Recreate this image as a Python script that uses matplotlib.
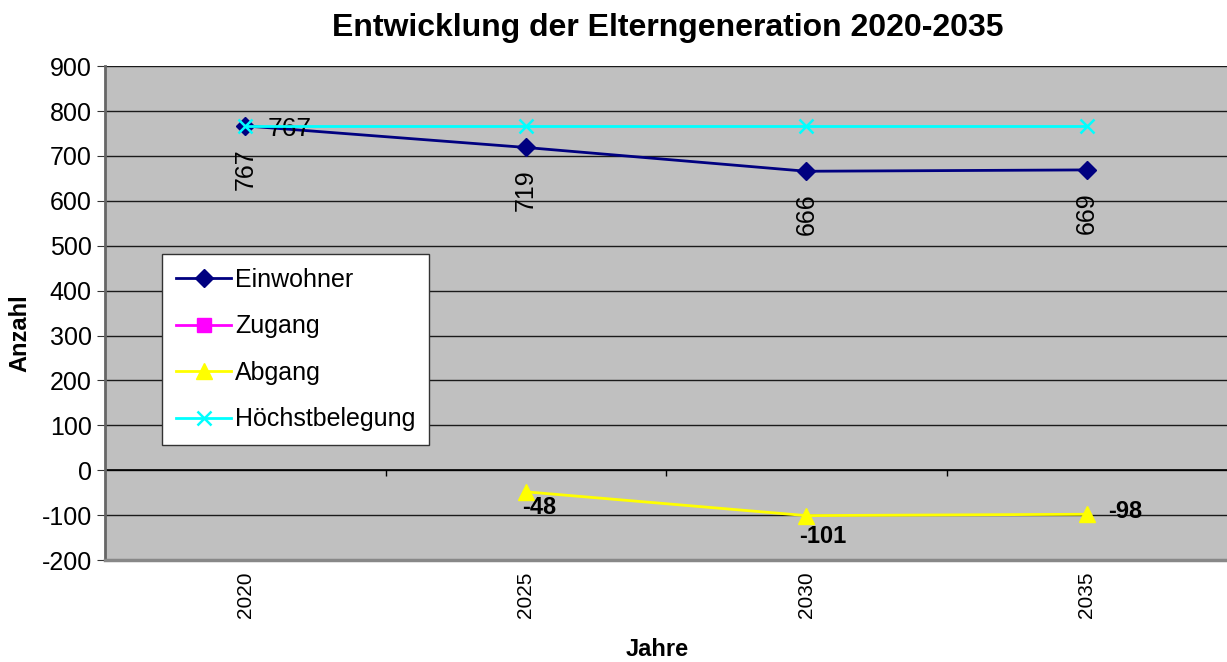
import numpy as np
import matplotlib
matplotlib.use('Agg')
import matplotlib.pyplot as plt

plt.rcParams['font.family'] = ['Liberation Sans', 'DejaVu Sans']
plt.rcParams['axes.unicode_minus'] = False

# Data
jahre = ['2020', '2025', '2030', '2035']
einwohner = [767, 719, 666, 669]
zugang = [np.nan, np.nan, np.nan, np.nan]
abgang = [np.nan, -48, -101, -98]
hoechstbelegung = [767, 767, 767, 767]

# Label offsets (points) for the Abgang values
abgang_offsets = [(0, 0), (10, -11), (12, -15), (28, 2)]

x = np.arange(len(jahre))

fig = plt.figure(figsize=(12.27, 6.62), dpi=100)
ax = fig.add_axes([0.0856, 0.154, 0.9144, 0.746])
ax.set_facecolor('#C0C0C0')

# grid
ax.set_ylim(-200, 900)
ax.set_xlim(-0.5, 3.5)
ax.set_yticks(np.arange(-200, 901, 100))
ax.yaxis.grid(True, color='#1a1a1a', linewidth=1.0)
ax.set_axisbelow(True)

# zero axis line with category boundary ticks
ax.axhline(0, color='black', linewidth=1.2, zorder=1)
ax.vlines(x[:-1] + 0.5, -13, 0, color='black', linewidth=1.0, zorder=1)

ax.plot(x, einwohner, color='#000080', marker='D', markersize=9,
        linewidth=2, label='Einwohner', zorder=3)
ax.plot(x, zugang, color='#FF00FF', marker='s', markersize=10,
        linewidth=2, label='Zugang', zorder=3)
ax.plot(x, abgang, color='#FFFF00', marker='^', markersize=11,
        linewidth=2, label='Abgang', zorder=3)
ax.plot(x, hoechstbelegung, color='#00FFFF', marker='x', markersize=10,
        markeredgewidth=1.8, linewidth=2, label='Höchstbelegung', zorder=4)

# data labels
for xi, v in zip(x, einwohner):
    ax.annotate(str(v), (xi, v), xytext=(0, -16), textcoords='offset points',
                rotation=90, ha='center', va='top', fontsize=18)
ax.annotate(str(hoechstbelegung[0]), (x[0], hoechstbelegung[0]), xytext=(16, -2),
            textcoords='offset points', ha='left', va='center', fontsize=19)
for xi, v, off in zip(x, abgang, abgang_offsets):
    if np.isnan(v):
        continue
    ax.annotate(str(v), (xi, v), xytext=off, textcoords='offset points',
                ha='center', va='center', fontsize=17, fontweight='bold')

ax.set_xticks(x)
ax.set_xticklabels(jahre, rotation=90, fontsize=15)
ax.tick_params(axis='x', length=0, pad=8)
ax.tick_params(axis='y', labelsize=18, length=6, direction='out', color='#333333')

for s in ['top', 'right']:
    ax.spines[s].set_visible(False)
ax.spines['left'].set_color('#666666')
ax.spines['left'].set_linewidth(2)
ax.spines['bottom'].set_color('#888888')
ax.spines['bottom'].set_linewidth(2.5)

ax.set_xlabel('Jahre', fontsize=17, fontweight='bold')
ax.xaxis.set_label_coords(0.492, -0.158)
ax.set_ylabel('Anzahl', fontsize=17, fontweight='bold')
ax.yaxis.set_label_coords(-0.066, 0.46)
fig.text(0.544, 0.957, 'Entwicklung der Elterngeneration 2020-2035', fontsize=23,
         fontweight='bold', ha='center', va='center')

leg = ax.legend(loc='upper left', bbox_to_anchor=(0.04, 0.645), fontsize=18,
                frameon=True, fancybox=False, edgecolor='#333333',
                framealpha=1, labelspacing=0.9, handlelength=2.2,
                handletextpad=0.15, borderpad=0.55)
leg.get_frame().set_linewidth(1)

fig.savefig('out.png', dpi=100)
